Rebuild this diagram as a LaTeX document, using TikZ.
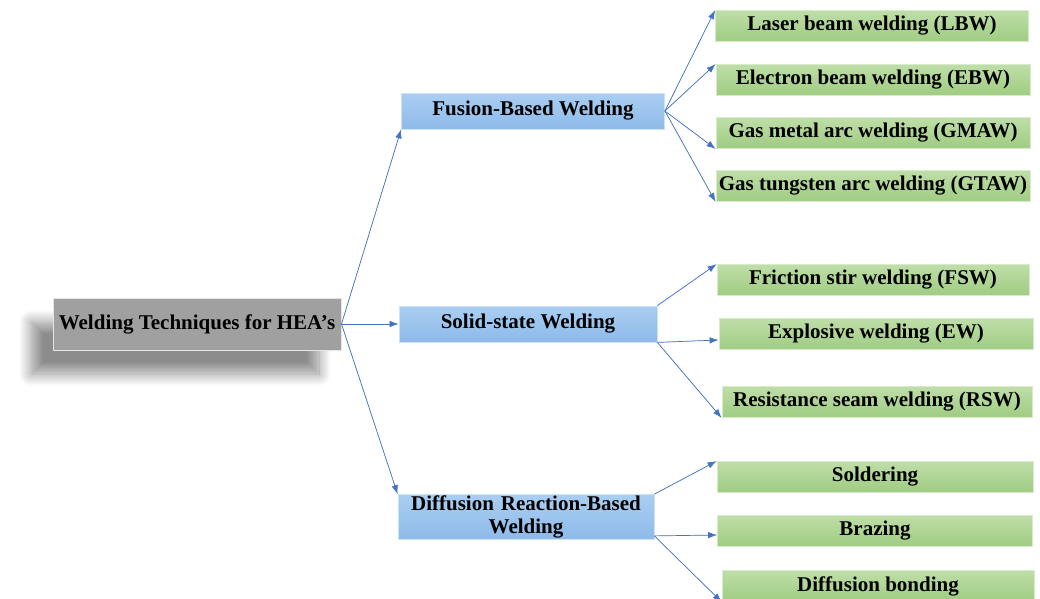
\documentclass[tikz,border=0pt]{standalone}
\usepackage{fontspec}
\setmainfont{Liberation Serif}
\usetikzlibrary{shadows.blur,arrows.meta}

\definecolor{linkblue}{RGB}{68,114,196}
\definecolor{catblue}{RGB}{142,186,233}
\definecolor{catbluetop}{RGB}{170,206,242}
\definecolor{leafgreen}{RGB}{160,204,130}
\definecolor{leafgreentop}{RGB}{190,222,168}
\definecolor{rootgray}{RGB}{160,160,160}

\begin{document}
\begin{tikzpicture}[x=1pt, y=-1pt,
    font=\fontsize{21}{22}\selectfont\bfseries,
    rootbox/.style={draw=white!80!gray, line width=1pt, fill=rootgray,
      minimum width=288pt, minimum height=52pt, inner sep=0pt,
      blur shadow={shadow xshift=-22pt, shadow yshift=-24pt,
        shadow opacity=45, shadow blur steps=16, shadow blur radius=12pt}},
    catbox/.style={draw=catbluetop!60!white, line width=0.8pt,
      top color=catbluetop, bottom color=catblue, inner sep=0pt,
      minimum height=36pt, align=center},
    leafbox/.style={draw=leafgreentop!60!white, line width=0.8pt,
      top color=leafgreentop, bottom color=leafgreen, inner sep=0pt,
      minimum height=31pt},
    link/.style={-{Latex[length=9pt,width=6.5pt]}, draw=linkblue, fill=linkblue,
      line width=0.7pt}]
      \useasboundingbox (0,0) rectangle (1040,598);
      % root
      \node[rootbox] (root) at (197, 324) {Welding Techniques for HEA’s};
      % categories
      \node[catbox, minimum width=263pt] (fus) at (533, 111) {Fusion-Based Welding};
      \node[catbox, minimum width=258pt] (sol) at (528, 324) {Solid-state Welding};
      \node[catbox, minimum width=256pt, minimum height=45pt, text width=250pt,
        font=\fontsize{21}{23}\selectfont\bfseries] (dif) at (526, 517)
        {Diffusion Reaction-Based\\Welding};
      % fusion leaves
      \node[leafbox, minimum width=313pt] (lbw) at (872, 26) {Laser beam welding (LBW)};
      \node[leafbox, minimum width=314pt] (ebw) at (873, 80) {Electron beam welding (EBW)};
      \node[leafbox, minimum width=314pt] (gmaw) at (873, 133) {Gas metal arc welding (GMAW)};
      \node[leafbox, minimum width=314pt] (gtaw) at (873, 186) {Gas tungsten arc welding (GTAW)};
      % solid-state leaves
      \node[leafbox, minimum width=312pt] (fsw) at (873, 280) {Friction stir welding (FSW)};
      \node[leafbox, minimum width=314pt] (ew) at (876, 334) {Explosive welding (EW)};
      \node[leafbox, minimum width=310pt] (rsw) at (877, 402) {Resistance seam welding (RSW)};
      % diffusion leaves
      \node[leafbox, minimum width=316pt] (sold) at (875, 477) {Soldering};
      \node[leafbox, minimum width=315pt] (braz) at (875, 531) {Brazing};
      \node[leafbox, minimum width=312pt] (bond) at (878, 586) {Diffusion bonding};
      % links
      \draw[link] (root.east) to (fus.south west);
      \draw[link] (root.east) to (sol.west);
      \draw[link] (root.east) to (dif.north west);
      \draw[link] (fus.east) to (lbw.north west);
      \draw[link] (fus.east) to (ebw.north west);
      \draw[link] (fus.east) to (gmaw.south west);
      \draw[link] (fus.east) to (gtaw.south west);
      \draw[link] (sol.north east) to (fsw.north west);
      \draw[link] (sol.south east) to ([yshift=-6pt]ew.west);
      \draw[link] (sol.south east) to (rsw.south west);
      \draw[link] (dif.north east) to (sold.north west);
      \draw[link] ([yshift=4pt]dif.south east) to ([yshift=-4pt]braz.west);
      \draw[link] ([yshift=4pt]dif.south east) to (bond.south west);
    \end{tikzpicture}
\end{document}
